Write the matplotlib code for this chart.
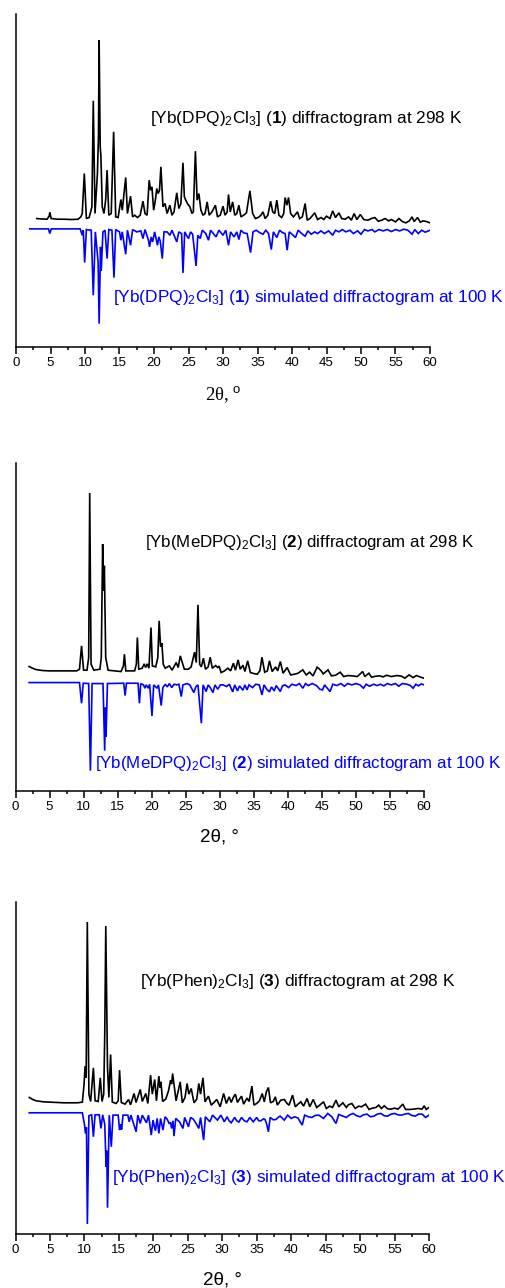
import matplotlib
matplotlib.use("Agg")
import matplotlib.pyplot as plt
from matplotlib.ticker import MultipleLocator

plt.rcParams['font.family'] = ['Liberation Sans', 'DejaVu Sans']
plt.rcParams['mathtext.fontset'] = 'custom'
plt.rcParams['mathtext.rm'] = 'Liberation Sans'
plt.rcParams['mathtext.bf'] = 'Liberation Sans:bold'
plt.rcParams['mathtext.it'] = 'Liberation Sans:italic'

# ---------------- data (2θ in degrees, intensity in arbitrary units incl. offsets) -------------
p1_exp_x = [3.0, 3.5, 4.5, 4.8, 4.9, 5.1, 6.0, 7.0, 8.0, 9.0, 9.4, 9.6, 9.9, 10.2, 10.6, 11.0, 11.2, 11.45, 11.8, 11.95,
            12.05, 12.2, 12.3, 12.5, 12.75, 13.0, 13.2, 13.45, 13.8, 14.15, 14.45, 14.8, 15.2, 15.4, 15.9, 16.15, 16.6,
            16.9, 17.2, 17.6, 18.0, 18.4, 18.7, 19.0, 19.3, 19.5, 19.7, 19.95, 20.2, 20.4, 20.6, 20.8, 21.0, 21.3, 21.6,
            21.9, 22.3, 22.6, 22.9, 23.3, 23.6, 23.9, 24.2, 24.4, 24.6, 24.9, 25.2, 25.5, 25.7, 26.0, 26.25, 26.5, 26.8,
            27.1, 27.4, 27.7, 28.0, 28.4, 28.9, 29.2, 29.6, 30.0, 30.3, 30.6, 30.8, 31.05, 31.4, 31.7, 32.0, 32.3, 32.6,
            33.0, 33.4, 33.9, 34.3, 34.7, 35.1, 35.5, 35.8, 36.1, 36.5, 36.9, 37.2, 37.5, 37.8, 38.1, 38.5, 38.8, 39.0,
            39.25, 39.5, 39.8, 40.2, 40.8, 41.1, 41.5, 41.9, 42.2, 42.6, 43.3, 43.7, 44.2, 44.6, 45.0, 45.5, 45.9, 46.3,
            46.8, 47.2, 47.7, 48.2, 48.6, 49.0, 49.4, 49.9, 50.4, 51.0, 51.5, 52.0, 52.5, 53.0, 53.5, 54.0, 54.4, 55.0,
            55.5, 56.0, 56.5, 57.0, 57.4, 57.7, 58.2, 58.6, 59.0, 59.5, 60.0]
p1_exp_y = [385, 384, 383, 392, 403, 385, 383, 383, 382, 383, 390, 400, 520, 385, 388, 420, 738, 400, 520, 630,
            920, 600, 575, 420, 400, 442, 530, 395, 400, 645, 390, 388, 442, 410, 508, 400, 452,
            390, 395, 388, 395, 437, 400, 395, 500, 470, 480, 410, 440, 475, 460, 470, 540, 420, 430,
            400, 425, 395, 405, 462, 415, 430, 552, 450, 440, 428, 420, 400, 405, 587, 440, 460, 410,
            395, 400, 435, 395, 405, 425, 390, 395, 422, 395, 405, 457, 405, 435, 395, 400, 425, 390,
            395, 402, 468, 400, 385, 388, 395, 405, 385, 395, 437, 405, 400, 440, 395, 388, 400, 448,
            425, 448, 400, 390, 405, 385, 390, 430, 380, 385, 402, 382, 388, 382, 392, 385, 408, 388,
            402, 385, 383, 390, 380, 400, 382, 397, 382, 380, 385, 388, 377, 380, 385, 378, 382, 375,
            385, 376, 372, 378, 390, 376, 388, 374, 378, 376, 372]

p1_sim_x = [2.0, 4.7, 4.9, 5.1, 9.3, 9.6, 9.75, 9.95, 10.2, 10.9, 11.2, 11.5, 11.9, 12.05, 12.25, 12.35, 12.6, 12.9,
            13.2, 13.45, 13.9, 14.2, 14.45, 15.0, 15.2, 15.4, 15.9, 16.15, 16.6, 16.9, 17.5, 18.1, 18.4, 18.7, 19.2,
            19.35, 19.6, 19.8, 20.1, 20.5, 20.7, 20.9, 21.2, 21.45, 21.9, 22.3, 22.6, 23.3, 23.6, 24.0, 24.2, 24.45,
            24.7, 25.0, 25.3, 25.6, 26.1, 26.35, 26.7, 27.0, 27.5, 27.9, 28.2, 28.6, 29.0, 29.4, 30.0, 30.4, 30.8,
            31.1, 31.6, 32.0, 32.3, 32.6, 33.0, 33.5, 34.0, 34.35, 34.8, 35.3, 35.8, 36.2, 36.6, 37.0, 37.3, 37.8,
            38.2, 38.6, 39.0, 39.3, 39.6, 40.0, 40.5, 40.9, 41.4, 41.9, 42.3, 42.8, 43.3, 43.7, 44.2, 44.7, 45.3,
            45.9, 46.3, 46.8, 47.3, 47.8, 48.4, 48.9, 49.5, 50.0, 50.5, 51.0, 51.6, 52.0, 52.6, 53.2, 53.8, 54.4,
            55.0, 55.6, 56.2, 56.8, 57.4, 57.8, 58.3, 58.8, 59.3, 60.0]
p1_sim_y = [354, 354, 340, 354, 354, 335, 350, 253, 352, 350, 155, 345, 255, 70, 300, 228, 345, 350,
            265, 352, 350, 208, 352, 345, 320, 345, 278, 350, 305, 352, 345, 348, 325, 352, 320,
            300, 330, 315, 345, 305, 330, 318, 265, 345, 345, 335, 350, 315, 345, 340, 222, 345,
            335, 325, 345, 338, 243, 335, 325, 350, 340, 320, 350, 340, 330, 350, 335, 350, 305,
            345, 330, 345, 322, 350, 342, 340, 283, 345, 350, 343, 338, 350, 340, 292, 345, 328,
            350, 343, 340, 290, 345, 338, 328, 350, 340, 332, 348, 338, 345, 340, 348, 340, 348,
            335, 350, 345, 352, 345, 350, 340, 348, 338, 352, 348, 352, 345, 352, 348, 352, 346,
            352, 348, 353, 350, 338, 352, 340, 350, 344, 350]

p2_exp_x = [2.0, 2.5, 3.0, 4.0, 5.0, 7.0, 9.0, 9.4, 9.7, 10.0, 10.5, 10.75, 10.9, 11.1, 11.5, 12.4, 12.6, 12.8, 12.95,
            13.05, 13.25, 13.6, 15.5, 15.85, 16.0, 16.2, 17.5, 17.75, 17.9, 18.1, 18.6, 18.9, 19.1, 19.35, 19.6, 19.9,
            20.1, 20.6, 20.9, 21.1, 21.3, 21.5, 21.7, 22.0, 22.6, 23.0, 23.6, 23.9, 24.2, 24.5, 24.8, 25.4, 25.8,
            26.3, 26.55, 26.8, 27.05, 27.3, 27.6, 27.9, 28.3, 28.6, 28.9, 29.4, 29.7, 29.9, 30.2, 30.7, 31.2, 31.6,
            32.0, 32.3, 32.7, 33.0, 33.4, 33.7, 34.1, 34.5, 35.0, 35.5, 35.9, 36.2, 36.6, 37.0, 37.3, 37.7, 38.2,
            38.5, 38.9, 39.3, 39.9, 40.4, 41.0, 41.5, 42.2, 42.7, 43.2, 43.7, 44.3, 44.6, 44.9, 45.2, 45.9, 46.4,
            47.0, 47.7, 48.2, 48.8, 49.5, 50.2, 51.0, 51.3, 51.9, 52.3, 52.9, 53.5, 54.0, 54.5, 55.2, 56.0, 56.7,
            57.2, 57.8, 58.4, 58.9, 59.4, 60.0]
p2_exp_y = [373, 368, 364, 361, 360, 360, 360, 365, 435, 362, 362, 400, 893, 380, 362, 365, 400, 740, 600,
            675, 400, 362, 358, 375, 410, 360, 360, 380, 460, 365, 368, 381, 370, 381, 368, 490,
            375, 372, 400, 510, 433, 443, 380, 368, 375, 362, 385, 370, 405, 385, 365, 365, 372,
            416, 385, 558, 380, 372, 398, 365, 372, 401, 368, 376, 370, 374, 355, 360, 368, 360,
            383, 362, 393, 365, 377, 358, 390, 355, 352, 350, 360, 401, 356, 360, 390, 358, 372,
            360, 388, 353, 370, 348, 350, 353, 363, 348, 356, 345, 371, 366, 360, 351, 363, 345,
            347, 356, 343, 346, 345, 343, 358, 343, 353, 341, 344, 345, 342, 347, 343, 346, 344,
            338, 348, 340, 346, 342, 338]

p2_sim_x = [2.0, 9.4, 9.7, 9.95, 10.75, 11.0, 11.25, 12.85, 13.1, 13.2, 13.3, 13.5, 15.9, 16.1, 16.3, 18.0, 18.2, 18.4,
            18.8, 19.0, 19.2, 19.5, 19.7, 20.05, 20.3, 20.8, 21.0, 21.4, 21.65, 22.0, 22.3, 22.6, 22.95, 23.3, 23.7,
            24.0, 24.35, 24.6, 25.2, 25.6, 26.2, 26.5, 26.8, 27.3, 27.55, 28.0, 28.3, 28.6, 29.0, 29.3, 29.7, 30.1,
            30.5, 31.0, 31.4, 31.9, 32.2, 32.6, 32.9, 33.4, 33.7, 34.0, 34.3, 34.8, 35.3, 35.8, 36.2, 36.5, 36.9,
            37.3, 37.6, 38.0, 38.3, 38.9, 39.2, 39.6, 40.1, 40.6, 41.2, 41.7, 42.2, 42.6, 43.0, 43.6, 44.2, 44.7,
            45.1, 45.4, 46.2, 46.6, 47.2, 47.8, 48.3, 48.8, 49.4, 50.0, 50.6, 51.1, 51.5, 52.0, 52.6, 53.1, 53.6,
            54.1, 54.6, 55.2, 55.8, 56.3, 56.8, 57.5, 58.0, 58.4, 58.8, 59.2, 59.6, 60.0]
p2_sim_y = [325, 325, 263, 323, 322, 61, 322, 322, 121, 250, 163, 322, 323, 286, 323, 323, 263, 322,
            318, 308, 318, 308, 320, 225, 318, 308, 318, 256, 310, 320, 312, 322, 310, 320, 318,
            320, 283, 318, 322, 318, 295, 313, 318, 203, 318, 298, 318, 310, 295, 318, 305, 318,
            318, 313, 320, 297, 318, 300, 315, 302, 318, 303, 318, 310, 320, 318, 288, 318, 305,
            297, 312, 300, 316, 298, 315, 318, 310, 320, 316, 322, 308, 322, 316, 322, 316, 305,
            303, 318, 298, 320, 316, 322, 314, 322, 318, 322, 318, 308, 320, 314, 320, 316, 320,
            315, 322, 318, 322, 314, 322, 320, 316, 308, 320, 315, 321, 318]

p3_exp_x = [2.0, 2.5, 3.0, 4.0, 5.0, 7.0, 9.0, 9.7, 9.95, 10.1, 10.25, 10.42, 10.65, 10.9, 11.3, 11.55, 12.0, 12.3,
            12.55, 12.8, 12.95, 13.1, 13.35, 13.55, 13.8, 14.05, 14.6, 14.9, 15.1, 15.35, 15.9, 16.4, 16.7, 17.2,
            17.5, 18.1, 18.4, 18.9, 19.2, 19.6, 19.85, 20.2, 20.45, 20.8, 20.95, 21.1, 21.35, 21.8, 22.2, 22.5,
            22.65, 22.8, 23.05, 23.3, 23.9, 24.2, 24.6, 24.9, 25.15, 25.5, 25.9, 26.3, 26.6, 26.85, 27.2, 27.5,
            28.0, 28.4, 28.8, 29.2, 29.7, 30.2, 30.6, 31.0, 31.3, 31.6, 31.9, 32.2, 32.5, 32.8, 33.1, 33.6, 33.9,
            34.3, 34.6, 35.0, 35.4, 35.8, 36.1, 36.4, 36.7, 37.0, 37.4, 37.7, 38.0, 38.5, 39.0, 39.4, 39.7, 40.2,
            40.6, 41.0, 41.4, 41.8, 42.3, 42.7, 43.2, 43.7, 44.2, 44.7, 45.1, 45.6, 46.0, 46.5, 46.9, 47.5, 48.0,
            48.3, 48.8, 49.3, 49.8, 50.2, 50.8, 51.3, 51.8, 52.3, 52.7, 53.1, 53.5, 54.0, 54.5, 55.0, 55.5, 56.2,
            56.6, 57.2, 57.8, 58.4, 59.0, 59.3, 59.6, 60.0]
p3_exp_y = [410, 404, 400, 397, 396, 394, 394, 396, 450, 504, 470, 937, 420, 398, 499, 400, 398, 469,
            398, 420, 600, 925, 500, 410, 539, 396, 392, 400, 492, 395, 390, 404, 388, 422,
            395, 434, 398, 422, 392, 477, 420, 464, 400, 474, 440, 457, 398, 405, 430, 462,
            450, 482, 440, 400, 457, 394, 410, 452, 420, 437, 394, 405, 452, 420, 469, 397,
            414, 387, 395, 404, 382, 422, 392, 412, 395, 410, 420, 395, 405, 414, 390, 408, 398,
            444, 387, 392, 400, 422, 397, 427, 440, 394, 398, 412, 387, 402, 404, 392, 387, 417,
            382, 390, 397, 384, 407, 382, 404, 380, 388, 397, 377, 384, 380, 402, 382, 394, 380,
            388, 392, 377, 384, 382, 390, 374, 378, 380, 387, 377, 385, 376, 375, 378, 375, 390,
            374, 374, 375, 377, 375, 385, 374, 380]

p3_sim_x = [2.0, 9.7, 10.0, 10.15, 10.3, 10.43, 10.65, 11.05, 11.3, 11.55, 12.15, 12.4, 12.65, 12.95, 13.15, 13.25,
            13.35, 13.6, 13.9, 14.15, 14.9, 15.1, 15.25, 15.4, 15.6, 16.3, 16.5, 16.75, 17.5, 17.75, 18.1, 18.4,
            19.0, 19.3, 19.7, 19.95, 20.3, 20.55, 20.8, 21.05, 21.4, 21.7, 22.0, 22.3, 22.5, 22.65, 22.85, 23.0,
            23.25, 23.8, 24.3, 24.55, 25.1, 25.4, 25.8, 26.2, 26.6, 26.85, 27.3, 27.55, 28.2, 28.6, 29.3, 29.8,
            30.3, 30.7, 31.0, 31.3, 31.8, 32.1, 32.4, 32.8, 33.2, 33.6, 34.0, 34.5, 35.0, 35.3, 35.6, 36.0, 36.2,
            36.45, 36.7, 36.95, 37.4, 37.8, 38.1, 38.4, 39.0, 39.5, 40.0, 40.5, 41.0, 41.6, 41.95, 42.5, 43.0,
            43.5, 44.0, 44.7, 45.3, 45.9, 46.5, 46.9, 47.5, 48.0, 48.5, 49.0, 49.5, 50.0, 50.5, 51.0, 51.5, 52.0,
            52.5, 53.0, 53.5, 54.0, 54.5, 55.0, 55.5, 56.0, 56.5, 57.0, 57.5, 58.0, 58.5, 59.0, 59.5, 60.0]
p3_sim_y = [364, 364, 330, 302, 320, 30, 355, 358, 292, 358, 358, 317, 358, 330, 202, 250,
            79, 357, 262, 357, 357, 312, 330, 314, 357, 357, 337, 357, 307, 357, 332, 357,
            334, 357, 297, 342, 310, 347, 302, 347, 312, 352, 345, 332, 335, 317, 340, 294,
            347, 337, 317, 350, 322, 350, 345, 332, 317, 350, 282, 352, 337, 357, 342, 357,
            337, 352, 340, 334, 350, 340, 336, 350, 340, 337, 350, 337, 350, 340, 340, 346, 344,
            330, 307, 350, 343, 344, 350, 354, 342, 357, 347, 352, 348, 327, 357, 352, 350,
            356, 357, 347, 362, 352, 332, 359, 354, 350, 358, 362, 355, 352, 358, 360, 352, 354,
            360, 362, 355, 354, 360, 362, 358, 357, 360, 362, 356, 354, 360, 360, 350, 357]

exp_labels = [r'[Yb(DPQ)$_2$Cl$_3$] ($\mathbf{1}$) diffractogram at 298 K',
              r'[Yb(MeDPQ)$_2$Cl$_3$] ($\mathbf{2}$) diffractogram at 298 K',
              r'[Yb(Phen)$_2$Cl$_3$] ($\mathbf{3}$) diffractogram at 298 K']
sim_labels = [r'[Yb(DPQ)$_2$Cl$_3$] ($\mathbf{1}$) simulated diffractogram at 100 K',
              r'[Yb(MeDPQ)$_2$Cl$_3$] ($\mathbf{2}$) simulated diffractogram at 100 K',
              r'[Yb(Phen)$_2$Cl$_3$] ($\mathbf{3}$) simulated diffractogram at 100 K']
x_ticks = [0, 5, 10, 15, 20, 25, 30, 35, 40, 45, 50, 55, 60]

# ---------------- layout -------------
W, H = 505, 1288
fig = plt.figure(figsize=(W / 100, H / 100), dpi=100)

# axes boxes in pixels: left, right, top, bottom
boxes = [(16, 430, 14, 347), (15.5, 424, 463, 791), (15.5, 429, 902, 1234)]
ytops = [998, 983, 997]
exp_pos = [(150, 122.5), (145, 547), (140, 986)]
sim_pos = [(113, 302), (95, 768), (112, 1182)]
label_size = [12.4, 12.2, 12.4]
xlab_y = [395, 837, 1280]
xlab_text = [r'2θ, $^{\rm o}$', '2θ, °', '2θ, °']
xlab_family = [['Liberation Serif', 'DejaVu Serif'], ['Liberation Sans', 'DejaVu Sans'],
               ['Liberation Sans', 'DejaVu Sans']]

data = [(p1_exp_x, p1_exp_y, p1_sim_x, p1_sim_y),
        (p2_exp_x, p2_exp_y, p2_sim_x, p2_sim_y),
        (p3_exp_x, p3_exp_y, p3_sim_x, p3_sim_y)]

for i in range(3):
    l, r, t, b = boxes[i]
    ax = fig.add_axes([l / W, 1 - b / H, (r - l) / W, (b - t) / H])
    ex, ey, sx, sy = data[i]
    ax.plot(ex, ey, color='black', lw=1.2, solid_joinstyle='miter')
    ax.plot(sx, sy, color='#0000ff', lw=1.2, solid_joinstyle='miter')
    ax.set_xlim(0, 60)
    ax.set_ylim(0, ytops[i])
    ax.spines['top'].set_visible(False)
    ax.spines['right'].set_visible(False)
    ax.spines['left'].set_linewidth(1.1)
    ax.spines['bottom'].set_linewidth(1.1)
    ax.set_yticks([])
    ax.set_xticks(x_ticks)
    ax.xaxis.set_minor_locator(MultipleLocator(2.5))
    ax.tick_params(axis='x', which='major', length=4.8, width=1.1, direction='out', labelsize=9.5, pad=2.5)
    ax.tick_params(axis='x', which='minor', length=2.4, width=1.1, direction='out')
    ax.patch.set_alpha(0)

    fig.text(exp_pos[i][0] / W, 1 - exp_pos[i][1] / H, exp_labels[i], color='black',
             fontsize=label_size[i], ha='left', va='baseline')
    fig.text(sim_pos[i][0] / W, 1 - sim_pos[i][1] / H, sim_labels[i], color='#0000ff',
             fontsize=label_size[i], ha='left', va='baseline')
    fig.text(((l + r) / 2) / W, 1 - xlab_y[i] / H, xlab_text[i], color='black',
             fontsize=13.5, ha='center', va='center', family=xlab_family[i])

fig.savefig('out.png', dpi=100)
